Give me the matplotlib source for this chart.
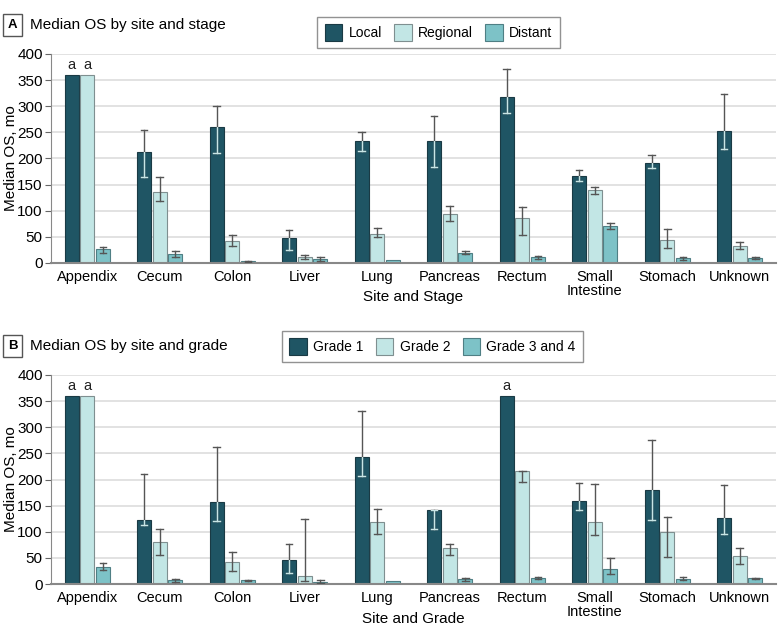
import numpy as np
import matplotlib
matplotlib.use("Agg")
import matplotlib.pyplot as plt

plt.rcParams['font.family'] = ['Liberation Sans', 'DejaVu Sans']

sites = ["Appendix", "Cecum", "Colon", "Liver", "Lung", "Pancreas", "Rectum",
         "Small\nIntestine", "Stomach", "Unknown"]

# panel A: median OS by stage (value, lower CI, upper CI); nan = no bar drawn
stage_names = ["Local", "Regional", "Distant"]
local = [360, 213, 260, 47, 234, 233, 317, 167, 192, 252]
local_lo = [np.nan, 164, 210, 24, 215, 183, 288, 156, 181, 218]
local_hi = [np.nan, 254, 300, 64, 250, 281, 371, 178, 206, 324]
regional = [360, 136, 43, 11, 56, 93, 87, 139, 44, 33]
regional_lo = [np.nan, 119, 32, 7, 49, 81, 53, 133, 28, 27]
regional_hi = [np.nan, 165, 54, 15, 67, 110, 108, 145, 66, 41]
distant = [26, 17, 3, 8, 6, 20, 11, 70, 9, 9]
distant_lo = [19, 12, 2, 4, np.nan, 18, 8, 65, 6, 7]
distant_hi = [31, 23, 4, 12, np.nan, 23, 13, 76, 12, 11]
stage_flags = [("Local", 0), ("Regional", 0)]

# panel B: median OS by grade
grade_names = ["Grade 1", "Grade 2", "Grade 3 and 4"]
g1 = [360, 122, 156, 46, 243, 142, 360, 158, 180, 127]
g1_lo = [np.nan, 112, 121, 22, 207, 106, np.nan, 142, 123, 96]
g1_hi = [np.nan, 210, 262, 77, 331, 142, np.nan, 193, 276, 189]
g2 = [360, 81, 43, 16, 119, 68, 216, 118, 99, 54]
g2_lo = [np.nan, 56, 24, 6, 95, 55, 196, 93, 52, 39]
g2_hi = [np.nan, 106, 62, 125, 143, 77, 217, 192, 129, 68]
g34 = [32, 7, 7, 3, 6, 9, 11, 29, 10, 11]
g34_lo = [26, 4.5, 5, 1, np.nan, 6, 10, 20, 8, 9]
g34_hi = [40, 10, 8, 8, np.nan, 11, 13, 49, 13, 12]
grade_flags = [("Grade 1", 0), ("Grade 2", 0), ("Grade 1", 6)]

colors = ["#1f5564", "#c2e6e5", "#7dc2c7"]
edges = ["#1a3a44", "#7f8f90", "#4f7f84"]
FS = 10.5


def draw_panel(ax, series, names, flags, letter, title, xlabel, leg_box, xlab_y):
    x = np.arange(len(sites))
    off = [-0.215, 0.0, 0.215]
    for i, (vals, lo, hi) in enumerate(series):
        vals = np.array(vals, float)
        lo = np.array(lo, float)
        hi = np.array(hi, float)
        bars = ax.bar(x + off[i], vals, 0.195, color=colors[i], edgecolor=edges[i],
                      linewidth=0.8, label=names[i], zorder=2)
        for j, b in enumerate(bars):
            if np.isnan(lo[j]):
                continue
            xc = x[j] + off[i]
            # grey error bar
            ax.plot([xc, xc], [lo[j], hi[j]], color="#555555", lw=1.0, zorder=3)
            for yy in (lo[j], hi[j]):
                ax.plot([xc - 0.045, xc + 0.045], [yy, yy], color="#555555", lw=1.0, zorder=3)
            if i == 0:
                # light part where it crosses the dark bar
                parts = ax.plot([xc, xc], [lo[j], hi[j]], color="#c8e6e6", lw=1.0, zorder=4)
                for yy in (lo[j], hi[j]):
                    parts += ax.plot([xc - 0.045, xc + 0.045], [yy, yy], color="#c8e6e6",
                                     lw=1.0, zorder=4)
                for p in parts:
                    p.set_clip_path(b)
    for name, j in flags:
        i = names.index(name)
        ax.text(x[j] + off[i], 365, "a", ha="center", va="bottom", fontsize=FS, color="#222222")
    ax.set_xlim(-0.5, len(sites) - 0.5)
    ax.set_ylim(0, 400)
    ax.set_yticks(range(0, 401, 50))
    ax.set_xticks(x)
    ax.set_xticklabels(sites, fontsize=FS, linespacing=1.0)
    ax.tick_params(axis="y", labelsize=FS + 0.5, length=4, color="#666666", pad=2)
    ax.tick_params(axis="x", length=0, pad=5)
    ax.grid(axis="y", color="#dddddd", lw=1.2, zorder=0)
    for s in ("top", "right"):
        ax.spines[s].set_visible(False)
    ax.spines["left"].set_color("#888888")
    ax.spines["bottom"].set_color("#888888")
    ax.spines["bottom"].set_linewidth(1.5)
    ax.set_ylabel("Median OS, mo", fontsize=FS + 0.5)
    ax.yaxis.set_label_coords(-0.046, 0.5)
    ax.set_xlabel(xlabel, fontsize=FS + 0.5)
    ax.xaxis.set_label_coords(0.5, xlab_y)
    leg = ax.legend(ncol=3, loc="center", bbox_to_anchor=leg_box, fontsize=FS - 0.5,
                    frameon=True, fancybox=False, edgecolor="#777777",
                    handlelength=1.25, handleheight=1.4, columnspacing=0.9,
                    handletextpad=0.45, borderpad=0.55)
    leg.get_frame().set_linewidth(1.0)
    fig = ax.figure
    pos = ax.get_position()
    ty = pos.y1 + 29 / 637
    fig.text(12.5 / 783, ty, letter, ha="center", va="center", fontsize=9.5,
             fontweight="bold",
             bbox=dict(boxstyle="square,pad=0.35", fc="white", ec="#555555", lw=1.0))
    fig.text(30 / 783, ty, title, ha="left", va="center", fontsize=FS + 0.5)


fig = plt.figure(figsize=(7.83, 6.37), dpi=100)
axA = fig.add_axes([51 / 783, 1 - 263 / 637, 725 / 783, 209 / 637])
axB = fig.add_axes([51 / 783, 1 - 584 / 637, 725 / 783, 209 / 637])

draw_panel(axA, [(local, local_lo, local_hi), (regional, regional_lo, regional_hi),
                 (distant, distant_lo, distant_hi)],
           stage_names, stage_flags, "A", "Median OS by site and stage", "Site and Stage",
           ((438.5 - 51) / 725, (263 - 32.5) / 209), (263 - 290) / 209)
draw_panel(axB, [(g1, g1_lo, g1_hi), (g2, g2_lo, g2_hi), (g34, g34_lo, g34_hi)],
           grade_names, grade_flags, "B", "Median OS by site and grade", "Site and Grade",
           ((432.5 - 51) / 725, (584 - 346.5) / 209), (584 - 612) / 209)

fig.savefig("out.png", dpi=100)
